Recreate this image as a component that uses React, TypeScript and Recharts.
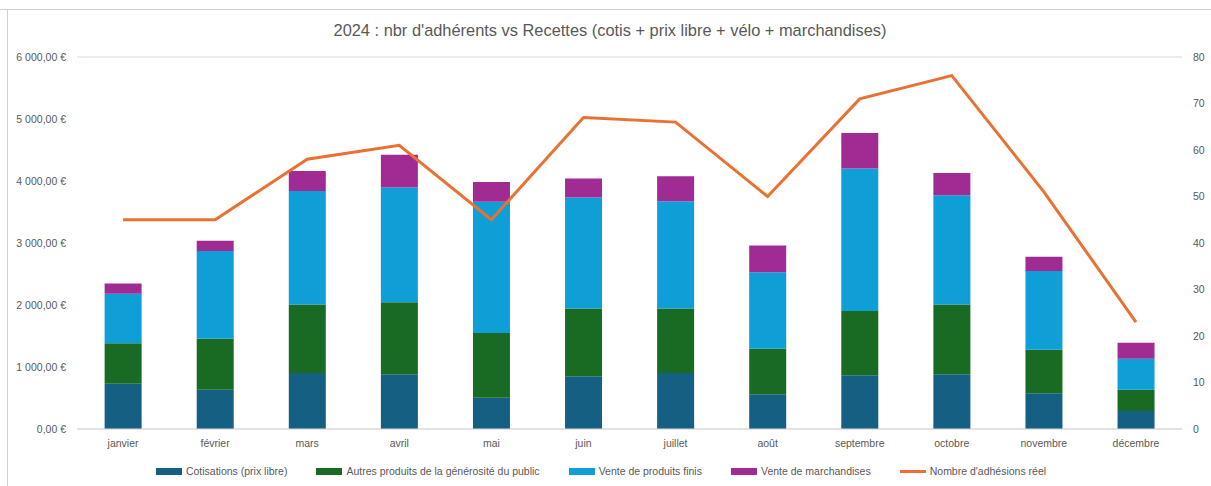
import { ComposedChart, Bar, Line, XAxis, YAxis, CartesianGrid, Legend } from "recharts";

const months = ["janvier", "février", "mars", "avril", "mai", "juin", "juillet", "août", "septembre", "octobre", "novembre", "décembre"];
const cotisations = [730, 635, 905, 885, 505, 850, 905, 560, 865, 885, 575, 290];
const autresProduits = [655, 820, 1105, 1160, 1045, 1095, 1040, 735, 1040, 1125, 705, 345];
const venteProduits = [795, 1415, 1830, 1850, 2115, 1790, 1730, 1235, 2295, 1760, 1270, 500];
const venteMarchandises = [165, 165, 320, 530, 320, 305, 400, 430, 575, 360, 230, 255];
const adhesions = [45, 45, 58, 61, 45, 67, 66, 50, 71, 76, 51, 23];

const seriesNames = [
  "Cotisations (prix libre)",
  "Autres produits de la générosité du public",
  "Vente de produits finis",
  "Vente de marchandises",
  "Nombre d'adhésions réel",
];

const euroTicks = [0, 1000, 2000, 3000, 4000, 5000, 6000];
const countTicks = [0, 10, 20, 30, 40, 50, 60, 70, 80];

const data = months.map((m, i) => ({
  mois: m,
  cotis: cotisations[i],
  autres: autresProduits[i],
  produits: venteProduits[i],
  marchandises: venteMarchandises[i],
  adhesions: adhesions[i],
}));

const textColor = "#595959";
const font = "'Liberation Sans', Arial, sans-serif";

function fmtEuro(v: number) {
  const [ent, dec] = v.toFixed(2).split(".");
  return ent.replace(/\B(?=(\d{3})+(?!\d))/g, " ") + "," + dec + " €";
}

function renderLegend(props: any) {
  const items = [...(props.payload || [])].sort((a: any, b: any) => seriesNames.indexOf(a.value) - seriesNames.indexOf(b.value));
  return (
    <div style={{ display: "flex", justifyContent: "center", alignItems: "center", height: 20, fontFamily: font, fontSize: 10.5, color: textColor, paddingLeft: 20 }}>
      {items.map((it: any) => (
        <div key={it.value} style={{ display: "flex", alignItems: "center", marginRight: 29 }}>
          <span style={{ display: "inline-block", width: 26, height: it.type === "line" ? 3 : 7, background: it.color, marginRight: 4 }} />
          <span>{it.value}</span>
        </div>
      ))}
    </div>
  );
}

export default function App() {
  return (
    <div style={{ position: "absolute", left: 0, top: 0, width: 1211, height: 486, background: "#fff", overflow: "hidden" }}>
      {/* bits of the spreadsheet around the chart */}
      <div style={{ position: "absolute", left: 0, top: 9, width: 1211, height: 1, background: "#d0d0d0" }} />
      <div style={{ position: "absolute", left: 7, top: 9, width: 1, height: 477, background: "#d0d0d0" }} />
      <div
        style={{
          position: "absolute",
          top: 21,
          left: 0,
          width: 1220,
          textAlign: "center",
          fontFamily: font,
          fontSize: 16.4,
          color: textColor,
        }}
      >
        2024 : nbr d'adhérents vs Recettes (cotis + prix libre + vélo + marchandises)
      </div>
      <ComposedChart width={1211} height={486} data={data} margin={{ top: 57, right: 0, bottom: 5, left: 0 }} barCategoryGap="30%">
        <CartesianGrid vertical={false} stroke="#d9d9d9" />
        <XAxis
          dataKey="mois"
          height={32}
          tickLine={false}
          axisLine={{ stroke: "#d9d9d9" }}
          tickMargin={5}
          tick={{ fill: textColor, fontSize: 10.5, fontFamily: font }}
          interval={0}
        />
        <YAxis
          yAxisId="euro"
          width={77}
          domain={[0, 6000]}
          ticks={euroTicks}
          tickFormatter={fmtEuro}
          axisLine={false}
          tickLine={false}
          tickMargin={5}
          tick={{ fill: textColor, fontSize: 10.5, fontFamily: font }}
        />
        <YAxis
          yAxisId="nb"
          orientation="right"
          width={29}
          domain={[0, 80]}
          ticks={countTicks}
          axisLine={false}
          tickLine={false}
          tickMargin={5}
          tick={{ fill: textColor, fontSize: 10.5, fontFamily: font, textAnchor: "start" }}
        />
        <Bar yAxisId="euro" dataKey="cotis" name={seriesNames[0]} stackId="a" fill="#156082" isAnimationActive={false} />
        <Bar yAxisId="euro" dataKey="autres" name={seriesNames[1]} stackId="a" fill="#196B24" isAnimationActive={false} />
        <Bar yAxisId="euro" dataKey="produits" name={seriesNames[2]} stackId="a" fill="#0F9ED5" isAnimationActive={false} />
        <Bar yAxisId="euro" dataKey="marchandises" name={seriesNames[3]} stackId="a" fill="#A02B93" isAnimationActive={false} />
        <Line
          yAxisId="nb"
          dataKey="adhesions"
          name={seriesNames[4]}
          type="linear"
          stroke="#E97132"
          strokeWidth={3}
          dot={false}
          isAnimationActive={false}
        />
        <Legend verticalAlign="bottom" align="center" height={20} content={renderLegend} />
      </ComposedChart>
    </div>
  );
}
